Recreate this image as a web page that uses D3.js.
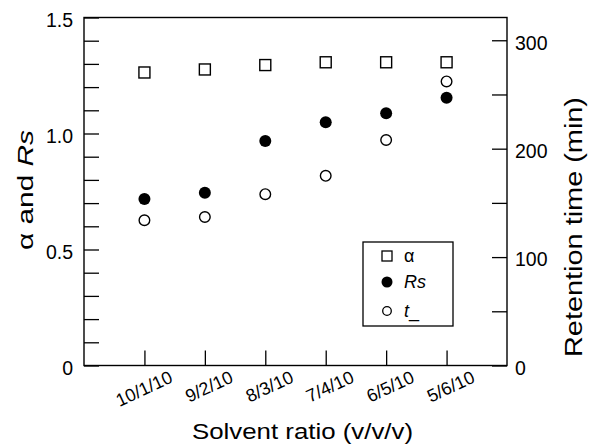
<!DOCTYPE html>
<html lang="en">
  <head>
    <meta charset="UTF-8" />
    <script src="https://d3js.org/d3.v7.min.js"></script>
    <title>Solvent ratio</title>
    <style>
      body { margin: 0; background: #fff; }
      text { font-family: "Liberation Sans", Arial, sans-serif; fill: #000; }
    </style>
  </head>
  <body>
    <div id="chart"></div>
    <script>

    // data
    var categories = ["10/1/10", "9/2/10", "8/3/10", "7/4/10", "6/5/10", "5/6/10"];
    var alpha = [1.263, 1.276, 1.295, 1.307, 1.307, 1.307];
    var rs = [0.718, 0.745, 0.968, 1.048, 1.087, 1.154];
    var tR = [134, 137, 158, 175, 208, 262];

    var leftTicks = d3.range(0, 16).map(function(d) { return d / 10; });
    var leftLabels = {0: "0", 0.5: "0.5", 1: "1.0", 1.5: "1.5"};
    var rightTicks = [0, 50, 100, 150, 200, 250, 300];
    var rightLabels = {0: "0", 100: "100", 200: "200", 300: "300"};

    // plot box (note: "top" is reserved on window, so use box.*)
    var W = 589, H = 445;
    var box = {left: 84, right: 507, top: 17.5, bottom: 365.5};

    var svg = d3.select("#chart").append("svg")
        .attr("width", W)
        .attr("height", H);

    var x = d3.scalePoint().domain(categories).range([box.left, box.right]).padding(1);
    var yL = d3.scaleLinear().domain([0, 1.5]).range([box.bottom, box.top]);
    var yR = d3.scaleLinear().domain([0, 321]).range([box.bottom, box.top]);

    // left axis, ticks pointing inside
    var gL = svg.append("g")
        .attr("transform", "translate(" + box.left + ",0)")
        .call(d3.axisLeft(yL).tickValues(leftTicks).tickSize(-15).tickPadding(11)
          .tickFormat(function(d) { var k = Math.round(d * 10) / 10; return leftLabels[k] || ""; }));

    // right axis
    var gR = svg.append("g")
        .attr("transform", "translate(" + box.right + ",0)")
        .call(d3.axisRight(yR).tickValues(rightTicks).tickSize(-15).tickPadding(8)
          .tickFormat(function(d) { return rightLabels[d] || ""; }));

    // bottom axis
    var gB = svg.append("g")
        .attr("transform", "translate(0," + box.bottom + ")")
        .call(d3.axisBottom(x).tickSize(-15));

    [gL, gR, gB].forEach(function(g) {
      g.select(".domain").remove();
      g.selectAll(".tick line").attr("stroke", "#000").attr("stroke-width", 1.3);
      g.selectAll("text").style("font-family", "Liberation Sans, Arial, sans-serif").attr("fill", "#000");
    });
    gL.selectAll("text").style("font-size", "19.5px").attr("dy", "0.45em");
    gR.selectAll("text").style("font-size", "19.5px").attr("dy", "0.45em");
    gB.selectAll("text")
        .style("font-size", "18px")
        .attr("text-anchor", "end")
        .attr("x", 0).attr("y", 0).attr("dy", 0)
        .attr("transform", "translate(29,16) rotate(-25)");

    // frame
    svg.append("rect")
        .attr("x", box.left).attr("y", box.top)
        .attr("width", box.right - box.left).attr("height", box.bottom - box.top)
        .attr("fill", "none")
        .attr("stroke", "#000")
        .attr("stroke-width", 1.4);

    // alpha: open squares
    svg.selectAll(".alpha")
        .data(alpha)
        .enter()
        .append("rect")
          .attr("class", "alpha")
          .attr("x", function(d, i) { return x(categories[i]) - 5.5; })
          .attr("y", function(d) { return yL(d) - 5.5; })
          .attr("width", 11).attr("height", 11)
          .attr("fill", "#fff").attr("stroke", "#000").attr("stroke-width", 1.4);

    // retention time: open circles
    svg.selectAll(".tr")
        .data(tR)
        .enter()
        .append("circle")
          .attr("class", "tr")
          .attr("cx", function(d, i) { return x(categories[i]); })
          .attr("cy", function(d) { return yR(d); })
          .attr("r", 5.3)
          .attr("fill", "#fff").attr("stroke", "#000").attr("stroke-width", 1.4);

    // Rs: filled circles
    svg.selectAll(".rs")
        .data(rs)
        .enter()
        .append("circle")
          .attr("class", "rs")
          .attr("cx", function(d, i) { return x(categories[i]); })
          .attr("cy", function(d) { return yL(d); })
          .attr("r", 6)
          .attr("fill", "#000");

    // axis titles
    svg.append("text")
        .attr("x", 192).attr("y", 439)
        .attr("textLength", 221).attr("lengthAdjust", "spacingAndGlyphs")
        .style("font-size", "22px")
        .text("Solvent ratio (v/v/v)");

    var yt = svg.append("text")
        .attr("transform", "translate(32.5,250) rotate(-90)")
        .attr("textLength", 120).attr("lengthAdjust", "spacingAndGlyphs")
        .style("font-size", "22px");
    yt.append("tspan").text("\u03b1 and ");
    yt.append("tspan").style("font-style", "italic").text("Rs");

    svg.append("text")
        .attr("transform", "translate(581.5,357) rotate(-90)")
        .attr("textLength", 260).attr("lengthAdjust", "spacingAndGlyphs")
        .style("font-size", "23px")
        .text("Retention time (min)");

    // legend
    var lg = svg.append("g");
    lg.append("rect")
        .attr("x", 363).attr("y", 242)
        .attr("width", 90).attr("height", 84)
        .attr("fill", "#fff").attr("stroke", "#000").attr("stroke-width", 1.3);
    lg.append("rect")
        .attr("x", 382).attr("y", 251)
        .attr("width", 10).attr("height", 10)
        .attr("fill", "#fff").attr("stroke", "#000").attr("stroke-width", 1.3);
    lg.append("circle")
        .attr("cx", 387).attr("cy", 282).attr("r", 5.5).attr("fill", "#000");
    lg.append("circle")
        .attr("cx", 387).attr("cy", 311).attr("r", 4.3)
        .attr("fill", "#fff").attr("stroke", "#000").attr("stroke-width", 1.3);
    lg.append("text").attr("x", 404).attr("y", 262).style("font-size", "18px").text("\u03b1");
    lg.append("text").attr("x", 404).attr("y", 288).style("font-size", "18px").style("font-style", "italic").text("Rs");
    var tl = lg.append("text").attr("x", 404).attr("y", 317).style("font-size", "18px");
    tl.append("tspan").style("font-style", "italic").text("t");
    tl.append("tspan").text("_");

    </script>
  </body>
</html>
